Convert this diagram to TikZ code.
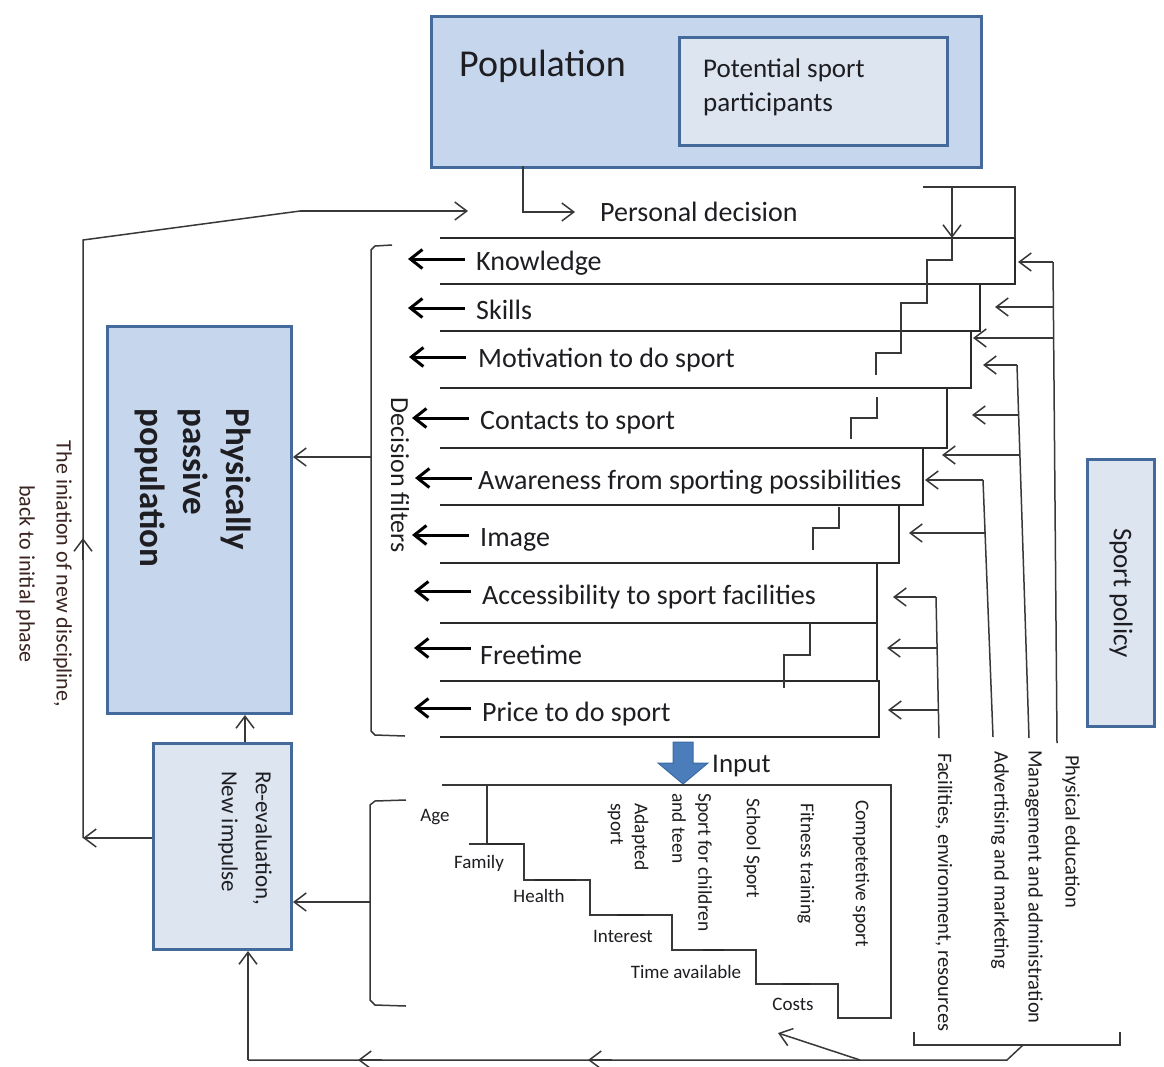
\documentclass[tikz,border=0pt]{standalone}
\usepackage{fontspec}
\setmainfont{Carlito}
\usetikzlibrary{arrows.meta,calc}

\definecolor{boxblue}{HTML}{C6D6EC}
\definecolor{paleblue}{HTML}{DCE5F0}
\definecolor{edgeblue}{HTML}{44699B}
\definecolor{inputblue}{HTML}{4A7DBA}
\definecolor{inputedge}{HTML}{3C6AA3}
\definecolor{ink}{HTML}{1E1E22}
\definecolor{loopink}{HTML}{3A2420}
\definecolor{wirecol}{HTML}{383838}
\definecolor{rowcol}{HTML}{2A2A2A}

\newcommand\txtsize[2]{\fontsize{#1}{#2}\selectfont}

\tikzset{
  wire/.style={draw=wirecol, line width=1.5pt},
  rowline/.style={draw=rowcol, line width=2pt},
  thinarrow/.style={wire, -{Straight Barb[length=12pt,width=18pt]}},
  fatarrow/.style={draw=black, line width=3pt, -{Straight Barb[length=12pt,width=19pt]}},
  bigbox/.style={draw=edgeblue, line width=3pt, fill=boxblue, inner sep=0pt, anchor=north west},
  palebox/.style={draw=edgeblue, line width=3pt, fill=paleblue, inner sep=0pt, anchor=north west},
  lbl/.style={text=ink, inner sep=0pt},
  rowtext/.style={lbl, anchor=west, font=\txtsize{28}{34}},
  smalltext/.style={lbl, font=\txtsize{19}{24}},
  sidetext/.style={lbl, rotate=-90, anchor=west, font=\txtsize{20.5}{24}},
}

\begin{document}
\begin{tikzpicture}[x=1pt,y=-1pt]
\useasboundingbox (0,0) rectangle (1164,1066);
\fill[white] (0,0) rectangle (1164,1066);

% ---------- population ----------
\node[bigbox, minimum width=550pt, minimum height=151pt] (pop) at (430,15) {};
\node[palebox, minimum width=268pt, minimum height=108pt] (potbox) at (678,36) {};
\node[lbl, anchor=west, font=\txtsize{38}{44}] (poptext) at (459,66) {Population};
\node[lbl, anchor=west, align=left, font=\txtsize{27}{34}] (pottext) at (703,87) {Potential sport\\participants};

\node[rowtext] (decision) at (600,212) {Personal decision};
\coordinate (popdrop) at (523,166);
\draw[thinarrow] (popdrop) |- ([xshift=-25pt]decision.west);

% ---------- decision filter rows ----------
\foreach \t/\b/\r in {238/284/1015, 284/331/980, 331/388/971, 388/448/947,
                      448/505/923, 505/563/899, 563/623/877, 623/681/877, 681/737/879}
  \draw[rowline] (440,\t) -- (\r,\t) -- (\r,\b) -- (440,\b);

\node[rowtext] (k1) at (476,263) {Knowledge};
\node[rowtext] (k2) at (476,310) {Skills};
\node[rowtext] (k3) at (478,360) {Motivation to do sport};
\node[rowtext] (k4) at (480,423) {Contacts to sport};
\node[rowtext] (k5) at (478,482) {Awareness from sporting possibilities};
\node[rowtext] (k6) at (480,540) {Image};
\node[rowtext] (k7) at (482,597) {Accessibility to sport facilities};
\node[rowtext] (k8) at (480,655) {Freetime};
\node[rowtext] (k9) at (482,714) {Price to do sport};

\foreach \y/\a in {259/408, 308/408, 357/409, 418/412, 478/415, 535/412, 591/414, 648/414, 708/414}
  \draw[fatarrow] (\a+57,\y) -- (\a,\y);

% bracket grouping the filters
\draw[wire] (392,245) -- (375,246) -- (371,250) -- (371,731) -- (375,735) -- (405,736);
\node[lbl, rotate=-90, font=\txtsize{26}{30}] (filters) at (400,475) {Decision filters};

% stair line running down through the filters
\draw[wire] (923,187) -- (1015,187) -- (1015,238);
\draw[thinarrow] (952,187) -- (952,238);
\draw[wire] (952,238) -- (952,260) -- (927,260) -- (927,303) -- (901,303) -- (901,353) -- (876,353) -- (876,375);
\draw[wire] (877,397) -- (877,418) -- (851,418) -- (851,439);
\draw[wire] (839,507) -- (839,528) -- (813,528) -- (813,550);
\draw[wire] (810,623) -- (810,655) -- (784,655) -- (784,688);

% ---------- sport policy instruments ----------
\coordinate (pe1) at (1053,262);  \coordinate (pe2) at (1057,743);
\coordinate (mg1) at (1017,365);  \coordinate (mg2) at (1029,738);
\coordinate (ad1) at (983,480);   \coordinate (ad2) at (993,737);
\coordinate (fa1) at (936,597);   \coordinate (fa2) at (939,738);
\draw[wire] (pe1) -- (pe2);
\draw[wire] (mg1) -- (mg2);
\draw[wire] (ad1) -- (ad2);
\draw[wire] (fa1) -- (fa2);

\draw[thinarrow] (pe1) -- (1018,262);
\draw[thinarrow] (1053.4,307) -- (995,307);
\draw[thinarrow] (1053.6,338) -- (973,338);
\draw[thinarrow] (mg1) -- (983,365);
\draw[thinarrow] (1018.6,415) -- (972,415);
\draw[thinarrow] (1019.9,455) -- (942,455);
\draw[thinarrow] (ad1) -- (925,480);
\draw[thinarrow] (985,533) -- (909,533);
\draw[thinarrow] (fa1) -- (893,597);
\draw[thinarrow] (937.1,648) -- (887,648);
\draw[thinarrow] (938.4,710) -- (888,710);

\node[sidetext] (pelbl) at (1071,755) {Physical education};
\node[sidetext] (mglbl) at (1034,750) {Management and administration};
\node[sidetext] (adlbl) at (1000,751) {Advertising and marketing};
\node[sidetext] (falbl) at (944,753) {Facilities, environment, resources};

\draw[wire] (914,1032) -- (914,1045) -- (1120,1045) -- (1120,1032);

\node[palebox, minimum width=67pt, minimum height=267pt] (policy) at (1086,458) {};
\node[lbl, rotate=-90, font=\txtsize{27}{32}] (policytext) at (policy.center) {Sport policy};

% ---------- passive population and re-evaluation ----------
\node[bigbox, minimum width=184pt, minimum height=387pt] (passive) at (106,325) {};
\node[lbl, rotate=-90, align=left, font=\bfseries\txtsize{35}{43}] (passivetext) at (193,488) {Physically\\passive\\population};

\node[palebox, minimum width=138pt, minimum height=206pt] (reeval) at (152,742) {};
\node[lbl, rotate=-90, align=left, font=\txtsize{23}{34}] (reevaltext) at (245,838) {Re-evaluation,\\New impulse};

\coordinate (filtick) at (371,457);
\draw[thinarrow] (filtick) -- (filtick -| passive.east);
\draw[thinarrow] (reeval.north -| 245,0) -- (passive.south -| 245,0);

% ---------- input block ----------
\fill[inputblue, draw=inputedge, line width=1pt] (673,742) -- (693,742) -- (693,763) -- (708,763)
   -- (683,784) -- (658,763) -- (673,763) -- cycle;
\node[lbl, anchor=west, font=\txtsize{27}{32}] (input) at (712,766) {Input};

\draw[wire] (442,785) -- (891,785) -- (891,1018) -- (838,1018) -- (838,984) -- (756,984)
   -- (756,950) -- (672,950) -- (672,915) -- (590,915) -- (590,880) -- (524,880)
   -- (524,844) -- (469,844);
\draw[wire] (487,785) -- (487,844);
\foreach \xa/\xb/\y in {487/522/844, 535/576/880, 617/644/915, 703/724/950, 783/810/984}
  \draw[draw=rowcol, line width=2.8pt] (\xa,\y) -- (\xb,\y);

\node[smalltext] (age) at (435,817) {Age};
\node[smalltext] (family) at (479,863) {Family};
\node[smalltext] (health) at (539,896) {Health};
\node[smalltext] (interest) at (623,936) {Interest};
\node[smalltext] (time) at (686,972) {Time available};
\node[smalltext] (costs) at (793,1004) {Costs};

\node[lbl, rotate=-90, anchor=west, align=left, font=\txtsize{19.5}{24}] (adapted) at (628,803) {Adapted\\sport};
\node[lbl, rotate=-90, anchor=west, align=left, font=\txtsize{19.5}{26}] (children) at (692,793) {Sport for children\\and teen};
\node[lbl, rotate=-90, anchor=west, font=\txtsize{19.5}{24}] (school) at (752,798) {School Sport};
\node[lbl, rotate=-90, anchor=west, font=\txtsize{19.5}{24}] (fitness) at (806,803) {Fitness training};
\node[lbl, rotate=-90, anchor=west, font=\txtsize{19.5}{24}] (compet) at (861,800) {Competetive sport};

% bracket grouping the personal factors
\draw[wire] (406,800) -- (375,801) -- (370,805) -- (370,1000) -- (375,1005) -- (406,1006);
\coordinate (lowtick) at (370,902);
\draw[thinarrow] (lowtick) -- (lowtick -| reeval.east);

% ---------- feedback along the bottom ----------
\coordinate (fbtop) at (1023,1045);
\coordinate (fbturn) at (1007,1060);
\coordinate (fbcorner) at (248,1060);
\draw[wire] (fbtop) -- (fbturn) -- (fbcorner);
\draw[thinarrow] (fbcorner) -- (reeval.south -| fbcorner);
\draw[thinarrow] (612,1060) -- (588,1060);
\draw[thinarrow] (382,1060) -- (358,1060);
\draw[thinarrow] (860,1060) -- (778,1033);

% ---------- loop back to the personal decision ----------
\coordinate (loopcorner) at (83,838);
\coordinate (looptop) at (83,240);
\coordinate (loopbend) at (300,211);
\draw[thinarrow] (reeval.west |- loopcorner) -- (loopcorner);
\draw[wire] (loopcorner) -- (looptop) -- (loopbend);
\draw[thinarrow] (loopbend) -- (468,211);
\draw[thinarrow] (83,560) -- (83,538);

\node[lbl, text=loopink, rotate=-90, align=center, font=\txtsize{22}{37}] (looptext) at (44,574)
  {The iniation of new discipline,\\back to initial phase};

\end{tikzpicture}
\end{document}
